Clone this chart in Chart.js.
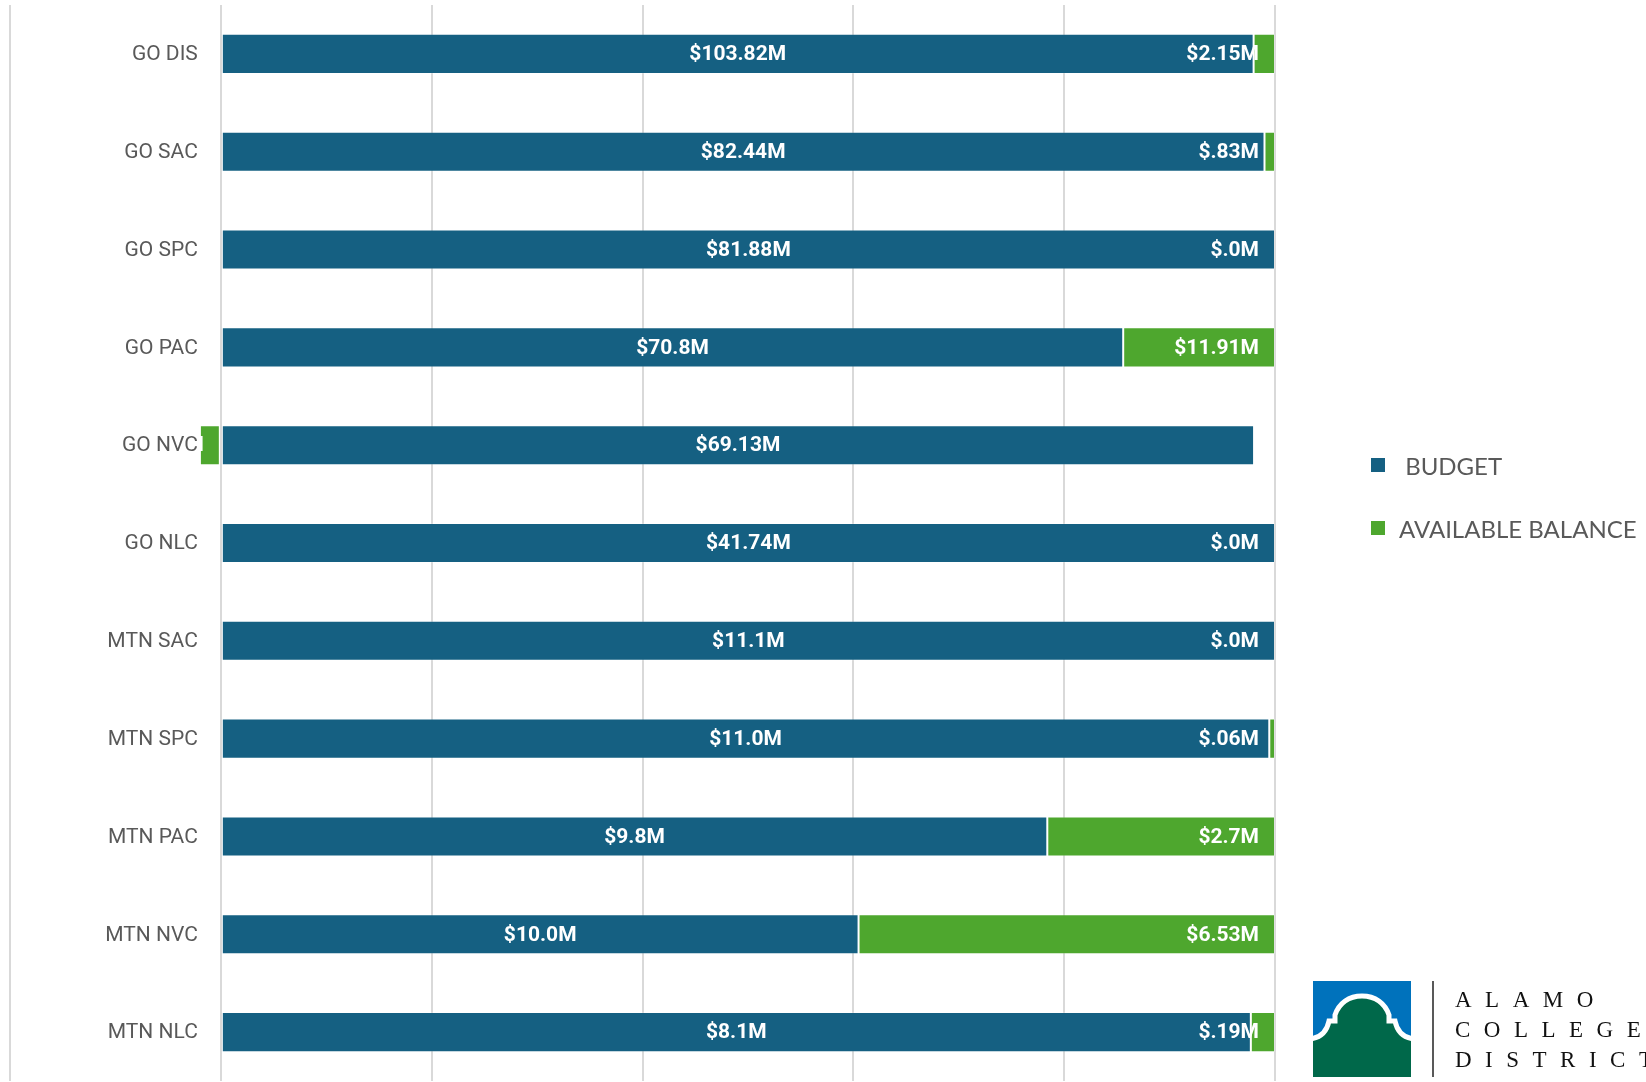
<!DOCTYPE html>
<html>
<head>
<meta charset="utf-8">
<title>Budget vs Available Balance</title>
<script src="https://cdn.jsdelivr.net/npm/chart.js@4.4.0/dist/chart.umd.min.js"></script>
<style>
  html, body { margin: 0; padding: 0; background: #fff; overflow: hidden; }
  #wrap { position: relative; width: 1646px; height: 1082px; overflow: hidden; }
  #grafico { position: absolute; left: 0; top: 0; }
  #leyenda { position: absolute; left: 1371px; top: 451px; font-family: Lato, "Open Sans", sans-serif; font-size: 24px; color: #595959; }
  #leyenda .item { display: flex; align-items: center; height: 28px; margin-bottom: 35px; white-space: pre; }
  #leyenda .box { width: 14px; height: 14px; margin-right: 14px; }
  #logo { position: absolute; left: 1313px; top: 981px; }
</style>
</head>
<body>
<div id="wrap">
  <canvas id="grafico" width="1646" height="1082"></canvas>
  <div id="leyenda"></div>
  <svg id="logo" width="340" height="100" viewBox="0 0 340 100">
    <defs>
      <clipPath id="cuadro"><rect x="0" y="0" width="98" height="96"/></clipPath>
    </defs>
    <g clip-path="url(#cuadro)">
      <rect x="0" y="0" width="98" height="96" fill="#0072bc"/>
      <path d="M-4,58 C8,57 14,50 16,40 L22,40 L22,34 C26,22 36,15 49,15 C62,15 72,22 76,34 L76,40 L82,40 C84,50 90,57 102,58 L102,100 L-4,100 Z"
            fill="#00684a" stroke="#fff" stroke-width="5"/>
    </g>
    <line x1="120" y1="0" x2="120" y2="96" stroke="#222" stroke-width="1.5"/>
    <g font-family="'Liberation Serif', 'DejaVu Serif', serif" font-size="23" fill="#111" letter-spacing="13.5">
      <text x="142" y="26">ALAMO</text>
      <text x="142" y="56">COLLEGES</text>
      <text x="142" y="86">DISTRICT</text>
    </g>
  </svg>
</div>

<script>
// categorías y montos (millones de dólares)
const categorias = ["GO DIS", "GO SAC", "GO SPC", "GO PAC", "GO NVC", "GO NLC",
  "MTN SAC", "MTN SPC", "MTN PAC", "MTN NVC", "MTN NLC"];
const presupuesto = [103.82, 82.44, 81.88, 70.8, 69.13, 41.74, 11.1, 11.0, 9.8, 10.0, 8.1];
const disponible = [2.15, 0.83, 0, 11.91, -1.4, 0, 0, 0.06, 2.7, 6.53, 0.19];
const nombres = [" BUDGET", "AVAILABLE BALANCE"];
const colores = ["#156082", "#4EA72E"];
const ejeX = { min: -20, max: 100, paso: 20 };

// barras al 100%: cada monto como porcentaje del total absoluto de la fila
function porcentaje(v, i) {
  const total = Math.abs(presupuesto[i]) + Math.abs(disponible[i]);
  return total ? v / total * 100 : 0;
}

// formato tipo "$#.0#M"
function formatoM(v) {
  let s = Math.abs(v).toFixed(2);
  if (s.endsWith("0")) s = s.slice(0, -1);
  if (s.startsWith("0.")) s = s.slice(1);
  return (v < 0 ? "-" : "") + "$" + s + "M";
}

const montos = [presupuesto, disponible];

// etiquetas de valores y de categorías dibujadas sobre el canvas
const etiquetas = {
  id: "etiquetas",
  afterDatasetsDraw(chart) {
    const ctx = chart.ctx;
    ctx.save();
    ctx.textBaseline = "middle";
    ctx.font = "bold 21px Roboto, 'Open Sans', sans-serif";
    ctx.fillStyle = "#ffffff";

    chart.data.datasets.forEach((ds, d) => {
      const meta = chart.getDatasetMeta(d);
      meta.data.forEach((bar, i) => {
        const valor = montos[d][i];
        const texto = formatoM(valor);
        const izq = Math.min(bar.x, bar.base);
        const der = Math.max(bar.x, bar.base);
        if (d === 0) {
          ctx.textAlign = "center";
          ctx.fillText(texto, (izq + der) / 2, bar.y + 1);
        } else if (valor >= 0) {
          ctx.textAlign = "right";
          ctx.fillText(texto, der - 16, bar.y + 1);
        } else {
          ctx.textAlign = "right";
          ctx.fillText(texto, izq + 4, bar.y + 1);
        }
      });
    });

    // nombres de categoría junto al eje en cero
    const x0 = chart.scales.x.getPixelForValue(0);
    ctx.font = "21px Roboto, 'Open Sans', sans-serif";
    ctx.fillStyle = "#595959";
    ctx.textAlign = "right";
    chart.data.labels.forEach((lab, i) => {
      ctx.fillText(lab, x0 - 23, chart.scales.y.getPixelForValue(i) + 1);
    });
    ctx.restore();
  }
};

const ctx = document.getElementById("grafico");

const chart = new Chart(ctx, {
  type: "bar",
  data: {
    labels: categorias,
    datasets: montos.map((serie, d) => ({
      label: nombres[d],
      data: serie.map((v, i) => porcentaje(v, i)),
      backgroundColor: colores[d],
      borderColor: "rgba(255,255,255,0.2)",
      borderWidth: 1,
      borderSkipped: false,
      barPercentage: 0.41,
      categoryPercentage: 1.0
    }))
  },
  options: {
    indexAxis: "y",
    responsive: false,
    animation: false,
    layout: { padding: { left: 10, right: 371, top: 5, bottom: 1 } },
    plugins: {
      legend: { display: false },
      tooltip: { enabled: false }
    },
    scales: {
      x: {
        stacked: true,
        min: ejeX.min,
        max: ejeX.max,
        ticks: { display: false, stepSize: ejeX.paso },
        grid: { color: "#d9d9d9", lineWidth: 2, drawTicks: false },
        border: { display: false }
      },
      y: {
        stacked: true,
        display: false
      }
    }
  },
  plugins: [etiquetas]
});

// leyenda a partir de los datasets
const leyenda = document.getElementById("leyenda");
chart.data.datasets.forEach(ds => {
  const item = document.createElement("div");
  item.className = "item";
  const box = document.createElement("span");
  box.className = "box";
  box.style.background = ds.backgroundColor;
  const txt = document.createElement("span");
  txt.textContent = ds.label;
  item.appendChild(box);
  item.appendChild(txt);
  leyenda.appendChild(item);
});
</script>
</body>
</html>
